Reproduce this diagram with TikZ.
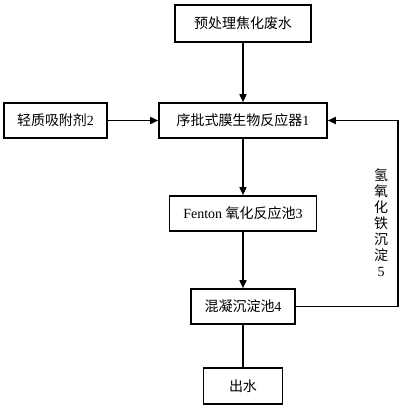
\documentclass[tikz,border=0pt]{standalone}
\usepackage{fontspec}
\setmainfont{Liberation Serif}
\newfontfamily\cjk{Noto Sans CJK SC}
\usetikzlibrary{arrows.meta}

\begin{document}
\begin{tikzpicture} [
        x=1pt, y=-1pt,
        box/.style={draw, rectangle, line width=1.6pt, inner sep=0pt,
                    minimum height=35pt, font=\fontsize{14}{16}\selectfont},
        flow/.style={line width=1.6pt, -{Triangle[length=8pt,width=7pt]}},
        align=center,
        node distance=93pt ]
    \useasboundingbox (0,0) rectangle (403,408);
    \node[box, minimum width=136pt, minimum height=37pt] (feed) at (243,23.5) {{\cjk 预处理焦化废水}};
    \node[box, minimum width=168pt, below of=feed, node distance=97pt] (mbr) {{\cjk 序批式膜生物反应器}1};
    \draw[flow] (feed.south) -- (mbr.north);
    \node[box, minimum width=103pt, left of=mbr, node distance=187.5pt] (ads) {{\cjk 轻质吸附剂}2};
    \draw[flow] (ads.east) -- (mbr.west);
    \node[box, minimum width=147pt, below of=mbr] (fenton) {Fenton {\cjk 氧化反应池}3};
    \draw[flow] (mbr.south) -- (fenton.north);
    \node[box, minimum width=104pt, below of=fenton] (settle) {{\cjk 混凝沉淀池}4};
    \draw[flow] (fenton.south) -- (settle.north);
    \node[box, minimum width=79pt, minimum height=36pt, below of=settle, node distance=79.5pt] (out) {{\cjk 出水}};
    \draw[line width=1.6pt] (settle.south) -- (out.north);
    % iron hydroxide sludge returned to the reactor
    \draw[flow] (settle.east) -- ++(102,0) coordinate (ret) |- (mbr.east);
    \node[font=\fontsize{14}{16}\selectfont] (sludge) at (381,223) {{\cjk 氢}\\{\cjk 氧}\\{\cjk 化}\\{\cjk 铁}\\{\cjk 沉}\\{\cjk 淀}\\5};
\end{tikzpicture}
\end{document}
